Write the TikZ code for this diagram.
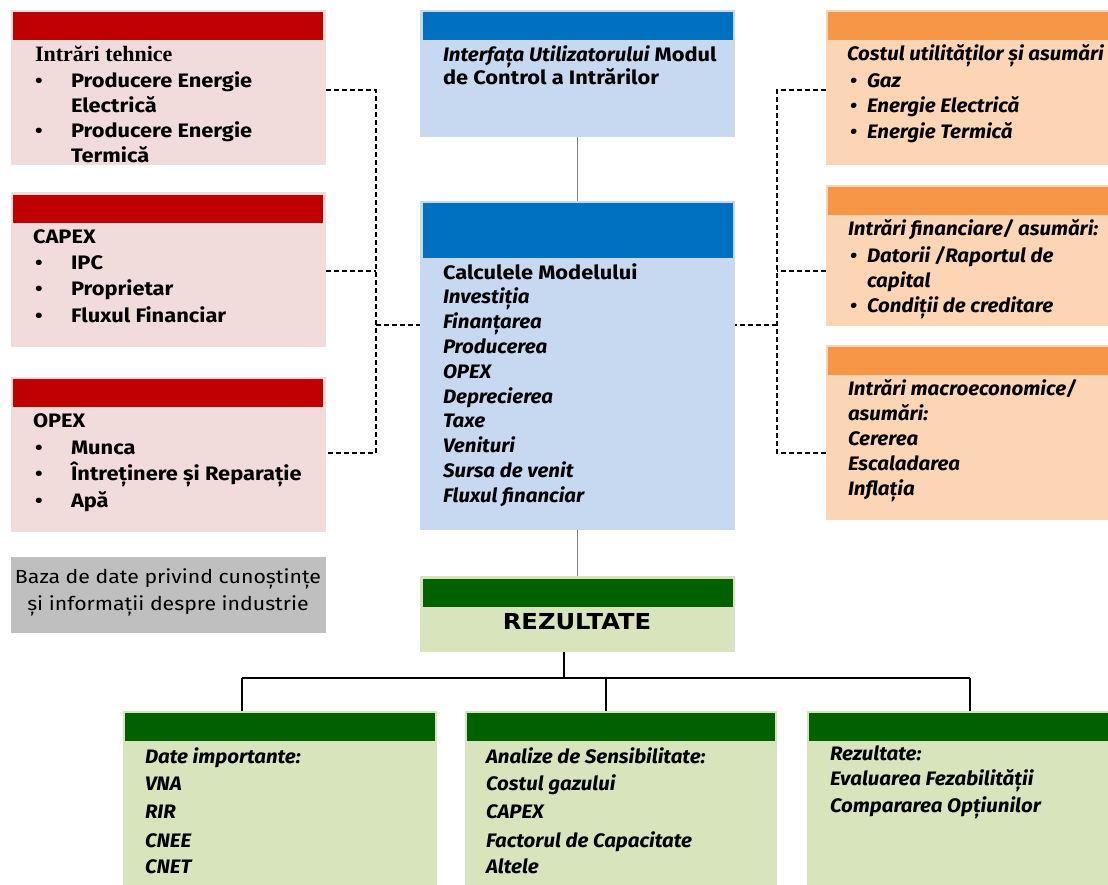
\documentclass[tikz,border=0pt]{standalone}
\usepackage{fontspec}
\setmainfont{Fira Sans}[FakeStretch=1.12]
\newfontfamily\slantfam{Fira Sans}[FakeStretch=1.05]
\newfontfamily\headserif{Liberation Serif}
\newfontfamily\wideface{DejaVu Sans}[FakeStretch=1.1]
\definecolor{redhead}{HTML}{C00000}
\definecolor{redbody}{HTML}{F2DCDB}
\definecolor{bluehead}{HTML}{0070C0}
\definecolor{bluebody}{HTML}{C6D9F1}
\definecolor{orghead}{HTML}{F79646}
\definecolor{orgbody}{HTML}{FCD5B4}
\definecolor{grnhead}{HTML}{006100}
\definecolor{grnbody}{HTML}{D8E4BC}
\definecolor{dbgray}{HTML}{BFBFBF}
\definecolor{linkgray}{HTML}{808080}
\begin{document}
\begin{tikzpicture}[x=1pt,y=-1pt,
  panel/.style={draw=none,inner sep=0,outer sep=0,anchor=north west},
  head/.style={panel,minimum height=28},
  txt/.style={anchor=base west,inner sep=0,outer sep=0,font=\fontsize{19.5}{21}\selectfont\bfseries},
  itx/.style={txt,font=\fontsize{19.5}{21}\selectfont\slantfam\bfseries\itshape},
  dl/.style={draw=black,line width=1.5pt,dash pattern=on 5pt off 3pt},
  gl/.style={draw=linkgray,line width=1.6pt},
  bl/.style={draw=black,line width=1.6pt}]
\clip (0,0) rectangle (1108,884);

% ---------- left input panels ----------
\node[panel,fill=redbody,minimum width=315,minimum height=155] (t1) at (11,10) {};
\node[head,fill=redhead,minimum width=310] (t1h) at (13,12) {};
\node[panel,fill=redbody,minimum width=315,minimum height=155] (t2) at (11,192) {};
\node[head,fill=redhead,minimum width=310] (t2h) at (13,195) {};
\node[panel,fill=redbody,minimum width=315,minimum height=155] (t3) at (11,377) {};
\node[head,fill=redhead,minimum width=310] (t3h) at (13,379) {};
\node[panel,fill=dbgray,minimum width=315,minimum height=76] (db) at (11,557) {};

\begin{scope}
\clip (11,10) rectangle (326,165);
\node[txt,font=\fontsize{22}{24}\selectfont\headserif\bfseries] (t1a) at (35,61) {Intrări tehnice};
\foreach \y/\b/\t [count=\i] in {87/\textbullet/{Producere Energie},112//{Electrică},137/\textbullet/{Producere Energie},162//{Termică}}{
  \node[txt] (t1b\i) at (35,\y) {\b};
  \node[txt] (t1l\i) at (71,\y) {\t};
}
\end{scope}

\node[txt] (t2a) at (33,243) {CAPEX};
\foreach \y/\t [count=\i] in {269/IPC,295/Proprietar,322/{Fluxul Financiar}}{
  \node[txt] (t2b\i) at (35,\y) {\textbullet};
  \node[txt] (t2l\i) at (71,\y) {\t};
}
\node[txt] (t3a) at (33,427) {OPEX};
\foreach \y/\t [count=\i] in {454/Munca,480/{Întreținere și Reparație},507/{Apă}}{
  \node[txt] (t3b\i) at (35,\y) {\textbullet};
  \node[txt] (t3l\i) at (71,\y) {\t};
}
\node[anchor=base,inner sep=0,font=\fontsize{19}{21}\selectfont] (dba) at (168,583) {Baza de date privind cunoștințe};
\node[anchor=base,inner sep=0,font=\fontsize{19}{21}\selectfont] (dbb) at (168,610) {și informații despre industrie};

% ---------- central column ----------
\node[panel,fill=bluebody,minimum width=315,minimum height=127] (c1) at (420,10) {};
\node[head,fill=bluehead,minimum width=310] (c1h) at (423,12) {};
\node[txt] (c1a) at (443,61) {{\slantfam\itshape Interfața Utilizatorului} Modul};
\node[txt] (c1b) at (443,84) {de Control a Intrărilor};

\node[panel,fill=bluebody,minimum width=315,minimum height=329] (c2) at (420,201) {};
\node[panel,fill=bluehead,minimum width=310,minimum height=55] (c2h) at (423,203) {};
\node[txt] (c2a) at (443,279) {Calculele Modelului};
\foreach \t [count=\i] in {Investiția,Finanțarea,Producerea,OPEX,Deprecierea,Taxe,Venituri,{Sursa de venit},{Fluxul financiar}}{
  \node[itx] (c2l\i) at (443,{279+24.8*\i}) {\t};
}

\node[panel,fill=grnbody,minimum width=315,minimum height=76] (res) at (420,576) {};
\node[head,fill=grnhead,minimum width=310] (resh) at (423,579) {};
\node[anchor=base,inner sep=0,font=\fontsize{22}{24}\selectfont\wideface\bfseries] (resa) at (577,629) {REZULTATE};

% ---------- right input panels ----------
\node[panel,fill=orgbody,minimum width=300,minimum height=155] (r1) at (826,10) {};
\node[head,fill=orghead,minimum width=300] (r1h) at (828,12) {};
\node[panel,fill=orgbody,minimum width=300,minimum height=141] (r2) at (826,185) {};
\node[head,fill=orghead,minimum width=300] (r2h) at (828,187) {};
\node[panel,fill=orgbody,minimum width=300,minimum height=175] (r3) at (826,345) {};
\node[head,fill=orghead,minimum width=300] (r3h) at (828,347) {};

\node[itx] (r1a) at (847,60) {Costul utilităților și asumări};
\foreach \y/\t [count=\i] in {87/Gaz,112/{Energie Electrică},138/{Energie Termică}}{
  \node[itx] (r1b\i) at (850,\y) {\textbullet};
  \node[itx] (r1l\i) at (867,\y) {\t};
}
\node[itx] (r2a) at (848,235) {Intrări financiare/ asumări:};
\node[itx] (r2b1) at (850,262) {\textbullet};
\node[itx] (r2l1) at (867,262) {Datorii /Raportul de};
\node[itx] (r2l2) at (867,287) {capital};
\node[itx] (r2b3) at (850,312) {\textbullet};
\node[itx] (r2l3) at (867,312) {Condiții de creditare};
\foreach \y/\t [count=\i] in {395/{Intrări macroeconomice/},420/{asumări:},445/Cererea,470/Escaladarea,495/{Inflația}}{
  \node[itx] (r3l\i) at (848,\y) {\t};
}

% ---------- result panels ----------
\node[panel,fill=grnbody,minimum width=314,minimum height=174] (o1) at (123,711) {};
\node[head,fill=grnhead,minimum width=310] (o1h) at (125,713) {};
\node[panel,fill=grnbody,minimum width=312,minimum height=174] (o2) at (465,711) {};
\node[head,fill=grnhead,minimum width=308] (o2h) at (467,713) {};
\node[panel,fill=grnbody,minimum width=310,minimum height=174] (o3) at (807,711) {};
\node[head,fill=grnhead,minimum width=310] (o3h) at (809,713) {};

\foreach \y/\t [count=\i] in {763/{Date importante:},790/VNA,818/RIR,847/CNEE,873/CNET}{
  \node[itx] (o1l\i) at (145,\y) {\t};
}
\foreach \y/\t [count=\i] in {763/{Analize de Sensibilitate:},790/{Costul gazului},818/CAPEX,847/{Factorul de Capacitate},873/Altele}{
  \node[itx] (o2l\i) at (486,\y) {\t};
}
\foreach \y/\t [count=\i] in {760/{Rezultate:},785/{Evaluarea Fezabilității},812/{Compararea Opțiunilor}}{
  \node[itx] (o3l\i) at (830,\y) {\t};
}

% ---------- connectors ----------
\coordinate (lt) at (376,90);
\coordinate (lm) at (376,271);
\coordinate (lc) at (376,325);
\coordinate (lb) at (376,453);
\draw[dl] (t1.east |- lt) -- (lt) -- (lb) -- (t3.east |- lb);
\draw[dl] (t2.east |- lm) -- (lm);
\draw[dl] (lc) -- (c2.west |- lc);

\coordinate (rt) at (777,90);
\coordinate (rm) at (777,271);
\coordinate (rc) at (777,325);
\coordinate (rb) at (777,453);
\draw[dl] (r1.west |- rt) -- (rt) -- (rb) -- (r3.west |- rb);
\draw[dl] (r2.west |- rm) -- (rm);
\draw[dl] (rc) -- (c2.east |- rc);

\draw[gl] (c1.south) -- (c2.north);
\draw[gl] (c2.south) -- (res.north);

\coordinate (jn) at (564,678);
\coordinate (ja) at (242,678);
\coordinate (jb) at (606,678);
\coordinate (jc) at (970,678);
\draw[bl] (res.south -| jn) -- (jn);
\draw[bl] (ja) -- (jc);
\draw[bl] (ja) -- (o1.north -| ja);
\draw[bl] (jb) -- (o2.north -| jb);
\draw[bl] (jc) -- (o3.north -| jc);
\end{tikzpicture}
\end{document}
